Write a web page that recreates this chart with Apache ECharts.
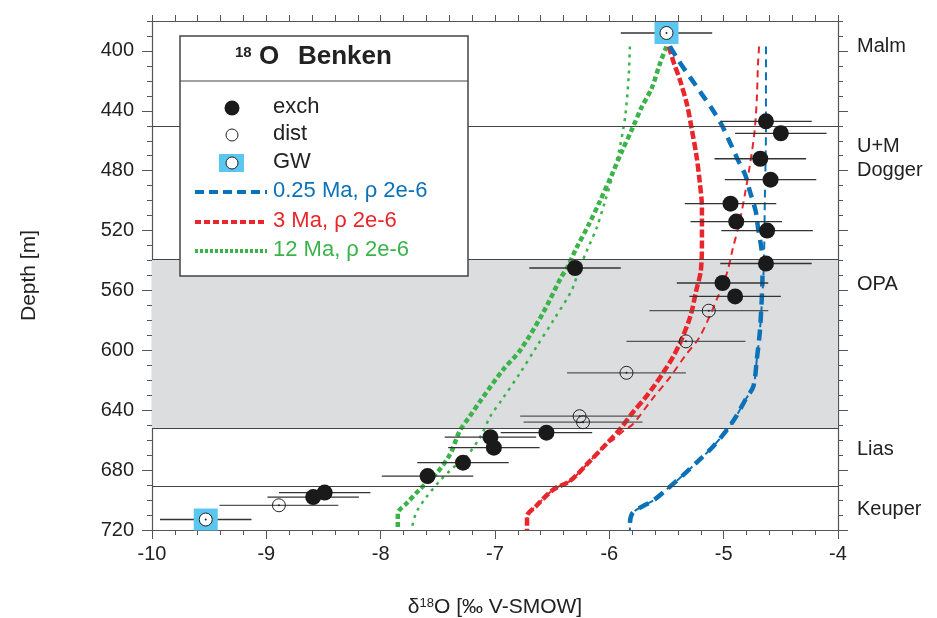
<!DOCTYPE html>
<html>
<head>
<meta charset="utf-8">
<script src="https://cdn.jsdelivr.net/npm/echarts@6/dist/echarts.min.js"></script>
<style>
html,body{margin:0;padding:0;background:#fff}
#main{width:937px;height:618px}
</style>
</head>
<body>
<div id="main"></div>
<script>
// measured points, exchange method
var exchX = [-4.63, -4.50, -4.68, -4.59, -4.94, -4.89, -4.62, -4.63, -6.30, -5.01, -4.90, -6.55, -7.04, -7.01, -7.28, -7.59, -8.49, -8.59];
var exchD = [447, 455, 472, 486, 502, 514, 520, 542, 545, 555, 564, 655, 658, 665, 675, 684, 695, 698];
var exchErr = 0.4;
// distillation
var distX = [-5.13, -5.33, -5.85, -6.26, -6.23, -8.89];
var distD = [573.5, 594, 615, 644, 648, 703.5];
var distErr = 0.52;
// ground water
var gwX = [-5.50, -9.53];
var gwD = [388, 713];
var gwErr = 0.4;

// model curves [d18O, depth]
var blueThick = [[-5.47,397],[-5.39,407],[-5.29,418],[-5.19,429],[-5.10,439],[-5.02,449],[-4.94,462],[-4.88,472],[-4.81,483],[-4.77,494],[-4.72,507],[-4.70,518],[-4.67,532],[-4.66,546],[-4.68,584],[-4.71,606],[-4.74,624],[-4.81,633],[-4.89,644],[-4.97,653],[-5.09,664],[-5.21,673],[-5.35,683],[-5.50,693],[-5.61,700],[-5.73,705],[-5.80,709],[-5.82,716],[-5.82,720]];
var blueThin = [[-4.63,397],[-4.63,450],[-4.64,500],[-4.65,546],[-4.68,584],[-4.71,606],[-4.74,624],[-4.81,633],[-4.89,644],[-4.97,653],[-5.09,664],[-5.21,673],[-5.35,683],[-5.50,693],[-5.61,700],[-5.73,705],[-5.80,709],[-5.82,716],[-5.82,720]];
var redThick = [[-5.48,397],[-5.44,407],[-5.38,420],[-5.32,436],[-5.28,452],[-5.24,469],[-5.21,487],[-5.19,505],[-5.19,527],[-5.20,547],[-5.24,560],[-5.29,577],[-5.37,593],[-5.44,604],[-5.53,615],[-5.61,624],[-5.69,632],[-5.79,641],[-5.91,653],[-6.02,662],[-6.17,674],[-6.34,687],[-6.49,693],[-6.64,704],[-6.72,711],[-6.72,720]];
var redThin = [[-4.69,397],[-4.70,409],[-4.71,432],[-4.73,454],[-4.77,476],[-4.81,494],[-4.86,514],[-4.92,532],[-4.97,548],[-5.06,566],[-5.21,591],[-5.34,604],[-5.47,618],[-5.63,633],[-5.79,649],[-5.88,654],[-5.97,660],[-6.02,662],[-6.17,674],[-6.34,687],[-6.49,693],[-6.64,704],[-6.72,711],[-6.72,720]];
var greenThick = [[-5.50,397],[-5.56,409],[-5.63,425],[-5.72,438],[-5.80,452],[-5.89,467],[-5.98,483],[-6.08,500],[-6.18,516],[-6.29,532],[-6.37,545],[-6.42,551],[-6.58,575],[-6.78,600],[-6.93,613],[-7.13,634],[-7.22,644],[-7.31,654],[-7.39,669],[-7.51,682],[-7.66,693],[-7.77,702],[-7.85,709],[-7.85,720]];
var greenThin = [[-5.82,397],[-5.83,416],[-5.86,443],[-5.91,465],[-5.97,483],[-6.04,501],[-6.11,518],[-6.20,534],[-6.26,545],[-6.33,560],[-6.49,580],[-6.64,598],[-6.78,615],[-6.94,633],[-7.04,644],[-7.13,658],[-7.25,671],[-7.36,678],[-7.48,687],[-7.60,698],[-7.68,707],[-7.71,713],[-7.73,720]];

// formation boundaries and labels
var boundaries = [450, 539, 652, 691];
var opaBand = [539, 652];
var formNames = ['Malm', 'U+M\nDogger', 'OPA', 'Lias', 'Keuper'];
var formDepth = [397, 472, 556, 666, 706];
var depthLabels = [400, 440, 480, 520, 560, 600, 640, 680, 720];

var BLUE = '#0b72b9', RED = '#e8262b', GREEN = '#3bb34a', SKY = '#5bc6ef';
var FONT = 'Liberation Sans';

function pairs(xs, ys) {
  return xs.map(function (x, i) { return [x, ys[i]]; });
}
function bars(xs, ys, e) {
  return xs.map(function (x, i) { return [x, ys[i], e]; });
}
function errBar(color) {
  return function (params, api) {
    var a = api.coord([api.value(0) - api.value(2), api.value(1)]);
    var b = api.coord([api.value(0) + api.value(2), api.value(1)]);
    return { type: 'line', shape: { x1: a[0], y1: a[1], x2: b[0], y2: b[1] },
      style: { stroke: color, lineWidth: 1.3 } };
  };
}
function curve(name, data, color, width, dash) {
  return { name: name, type: 'line', data: data, symbol: 'none', smooth: 0.3, z: 3,
    lineStyle: { color: color, width: width, type: dash, cap: 'butt' } };
}

var chart = echarts.init(document.getElementById('main'), null, { renderer: 'canvas' });

var tickFont = { fontFamily: FONT, fontSize: 20, color: '#222' };

var option = {
  animation: false,
  grid: { left: 152, right: 99, top: 21, bottom: 88, outerBoundsMode: 'none', containLabel: false },
  xAxis: [{
    type: 'value', min: -10, max: -4, interval: 1, position: 'bottom',
    axisLine: { lineStyle: { color: '#555', width: 1.2 } },
    axisTick: { length: 9, lineStyle: { color: '#555' } },
    minorTick: { show: true, splitNumber: 5, length: 5, lineStyle: { color: '#555' } },
    axisLabel: Object.assign({ margin: 14 }, tickFont),
    splitLine: { show: false },
    name: '{a|δ}{s|18}{a|O [‰ V-SMOW]}', nameLocation: 'middle', nameGap: 67,
    nameTextStyle: { rich: { a: { fontFamily: FONT, fontSize: 21, color: '#222' },
      s: { fontFamily: FONT, fontSize: 13, color: '#222', verticalAlign: 'top', padding: [0, 0, 8, 0] } } }
  }, {
    type: 'value', min: -10, max: -4, interval: 1, position: 'top',
    axisLine: { lineStyle: { color: '#555', width: 1.2 } },
    axisTick: { length: 6, lineStyle: { color: '#555' } },
    minorTick: { show: true, splitNumber: 5, length: 6, lineStyle: { color: '#555' } },
    axisLabel: { show: false }, splitLine: { show: false }
  }],
  yAxis: [{
    type: 'value', min: 380, max: 720, interval: 10, inverse: true, position: 'left',
    axisLine: { show: true, lineStyle: { color: '#555', width: 1.2 } },
    axisTick: { length: 5, lineStyle: { color: '#555' } },
    axisLabel: Object.assign({ margin: 18, interval: 0,
      formatter: function (v) { return depthLabels.indexOf(v) >= 0 ? String(v) : ''; } }, tickFont),
    splitLine: { show: false },
    name: 'Depth [m]', nameLocation: 'middle', nameGap: 112,
    nameTextStyle: { fontFamily: FONT, fontSize: 21, color: '#222' }
  }, {
    type: 'value', min: 380, max: 720, inverse: true, position: 'left', offset: 0,
    axisLine: { show: false },
    axisTick: { show: true, length: 10, customValues: depthLabels, lineStyle: { color: '#555' } },
    axisLabel: { show: false }, splitLine: { show: false }
  }, {
    type: 'value', min: 380, max: 720, interval: 10, inverse: true, position: 'right', offset: 0,
    axisLine: { show: true, lineStyle: { color: '#555', width: 1.2 } },
    axisTick: { length: 5, lineStyle: { color: '#555' } },
    axisLabel: { show: false }, splitLine: { show: false }
  }, {
    type: 'value', min: 380, max: 720, inverse: true, position: 'right', offset: 0,
    axisLine: { show: false },
    axisTick: { show: true, length: 10, customValues: depthLabels, lineStyle: { color: '#555' } },
    axisLabel: Object.assign({ margin: 19, customValues: formDepth, align: 'left', lineHeight: 24,
      formatter: function (v) { return formNames[formDepth.indexOf(v)] || ''; } }, tickFont),
    splitLine: { show: false }
  }],
  series: [
    { name: 'frame', type: 'line', data: [], z: 1,
      markArea: { silent: true, itemStyle: { color: '#dcdddf' },
        data: [[{ yAxis: opaBand[0] }, { yAxis: opaBand[1] }]] },
      markLine: { silent: true, symbol: 'none', label: { show: false },
        lineStyle: { color: '#444', width: 1, type: 'solid' },
        data: boundaries.map(function (b) { return { yAxis: b }; }) } },
    curve('12 Ma thin', greenThin, GREEN, 2.5, [3, 5]),
    curve('3 Ma thin', redThin, RED, 2, [7, 5]),
    curve('0.25 Ma thin', blueThin, BLUE, 2, [8, 5]),
    curve('12 Ma', greenThick, GREEN, 4.5, [5, 3]),
    curve('3 Ma', redThick, RED, 4.5, [8, 3]),
    curve('0.25 Ma', blueThick, BLUE, 4.5, [11, 7]),
    { name: 'exch err', type: 'custom', renderItem: errBar('#333'), data: bars(exchX, exchD, exchErr), z: 4 },
    { name: 'dist err', type: 'custom', renderItem: errBar('#555'), data: bars(distX, distD, distErr), z: 4 },
    { name: 'gw err', type: 'custom', renderItem: errBar('#333'), data: bars(gwX, gwD, gwErr), z: 4 },
    { name: 'GW box', type: 'scatter', data: pairs(gwX, gwD), symbol: 'rect', symbolSize: [24, 22],
      itemStyle: { color: SKY, opacity: 1 }, z: 5 },
    { name: 'GW', type: 'scatter', data: pairs(gwX, gwD), symbol: 'circle', symbolSize: 13,
      itemStyle: { color: '#fff', borderColor: '#222', borderWidth: 1, opacity: 1 }, z: 6 },
    { name: 'exch', type: 'scatter', data: pairs(exchX, exchD), symbol: 'circle', symbolSize: 16,
      itemStyle: { color: '#1a1a1a', opacity: 1 }, z: 6 },
    { name: 'dist', type: 'scatter', data: pairs(distX, distD), symbol: 'circle', symbolSize: 13,
      itemStyle: { color: 'rgba(255,255,255,0)', borderColor: '#222', borderWidth: 1, opacity: 1 }, z: 6 },
    { name: 'dots', type: 'scatter', data: pairs(distX.concat(gwX), distD.concat(gwD)), symbol: 'circle',
      symbolSize: 2, itemStyle: { color: '#222', opacity: 1 }, z: 7 }
  ],
  graphic: [
    { type: 'rect', shape: { x: 180, y: 36, width: 288, height: 240 }, z: 100,
      style: { fill: '#fff', stroke: '#444', lineWidth: 1.5 } },
    { type: 'line', shape: { x1: 180, y1: 81, x2: 468, y2: 81 }, z: 101, style: { stroke: '#444', lineWidth: 1.2 } },
    { type: 'text', x: 235, y: 45, z: 101, style: { text: '18', font: 'bold 15px "Liberation Sans"', fill: '#222' } },
    { type: 'text', x: 259, y: 70, z: 101, style: { text: 'O', font: 'bold 26px "Liberation Sans"', fill: '#222', verticalAlign: 'bottom' } },
    { type: 'text', x: 298, y: 70, z: 101, style: { text: 'Benken', font: 'bold 26px "Liberation Sans"', fill: '#222', verticalAlign: 'bottom' } },
    { type: 'circle', shape: { cx: 232, cy: 108, r: 7.5 }, z: 101, style: { fill: '#1a1a1a' } },
    { type: 'circle', shape: { cx: 232, cy: 135, r: 6 }, z: 101, style: { fill: '#fff', stroke: '#222', lineWidth: 1 } },
    { type: 'rect', shape: { x: 219, y: 154, width: 25, height: 18 }, z: 101, style: { fill: SKY } },
    { type: 'circle', shape: { cx: 232, cy: 163, r: 6 }, z: 102, style: { fill: '#fff', stroke: '#222', lineWidth: 1 } },
    { type: 'line', shape: { x1: 195, y1: 192, x2: 267, y2: 192 }, z: 101, style: { stroke: BLUE, lineWidth: 4, lineDash: [9, 5] } },
    { type: 'line', shape: { x1: 195, y1: 222, x2: 267, y2: 222 }, z: 101, style: { stroke: RED, lineWidth: 4, lineDash: [6, 3] } },
    { type: 'line', shape: { x1: 195, y1: 251, x2: 267, y2: 251 }, z: 101, style: { stroke: GREEN, lineWidth: 4, lineDash: [3, 2] } },
    { type: 'text', x: 273, y: 107, z: 101, style: { text: 'exch', font: '22px "Liberation Sans"', fill: '#222', verticalAlign: 'middle' } },
    { type: 'text', x: 273, y: 134, z: 101, style: { text: 'dist', font: '22px "Liberation Sans"', fill: '#222', verticalAlign: 'middle' } },
    { type: 'text', x: 273, y: 162, z: 101, style: { text: 'GW', font: '22px "Liberation Sans"', fill: '#222', verticalAlign: 'middle' } },
    { type: 'text', x: 273, y: 191, z: 101, style: { text: '0.25 Ma, ρ 2e-6', font: '22px "Liberation Sans"', fill: BLUE, verticalAlign: 'middle' } },
    { type: 'text', x: 273, y: 221, z: 101, style: { text: '3 Ma, ρ 2e-6', font: '22px "Liberation Sans"', fill: RED, verticalAlign: 'middle' } },
    { type: 'text', x: 273, y: 250, z: 101, style: { text: '12 Ma, ρ 2e-6', font: '22px "Liberation Sans"', fill: GREEN, verticalAlign: 'middle' } }
  ]
};
chart.setOption(option);
</script>
</body>
</html>
